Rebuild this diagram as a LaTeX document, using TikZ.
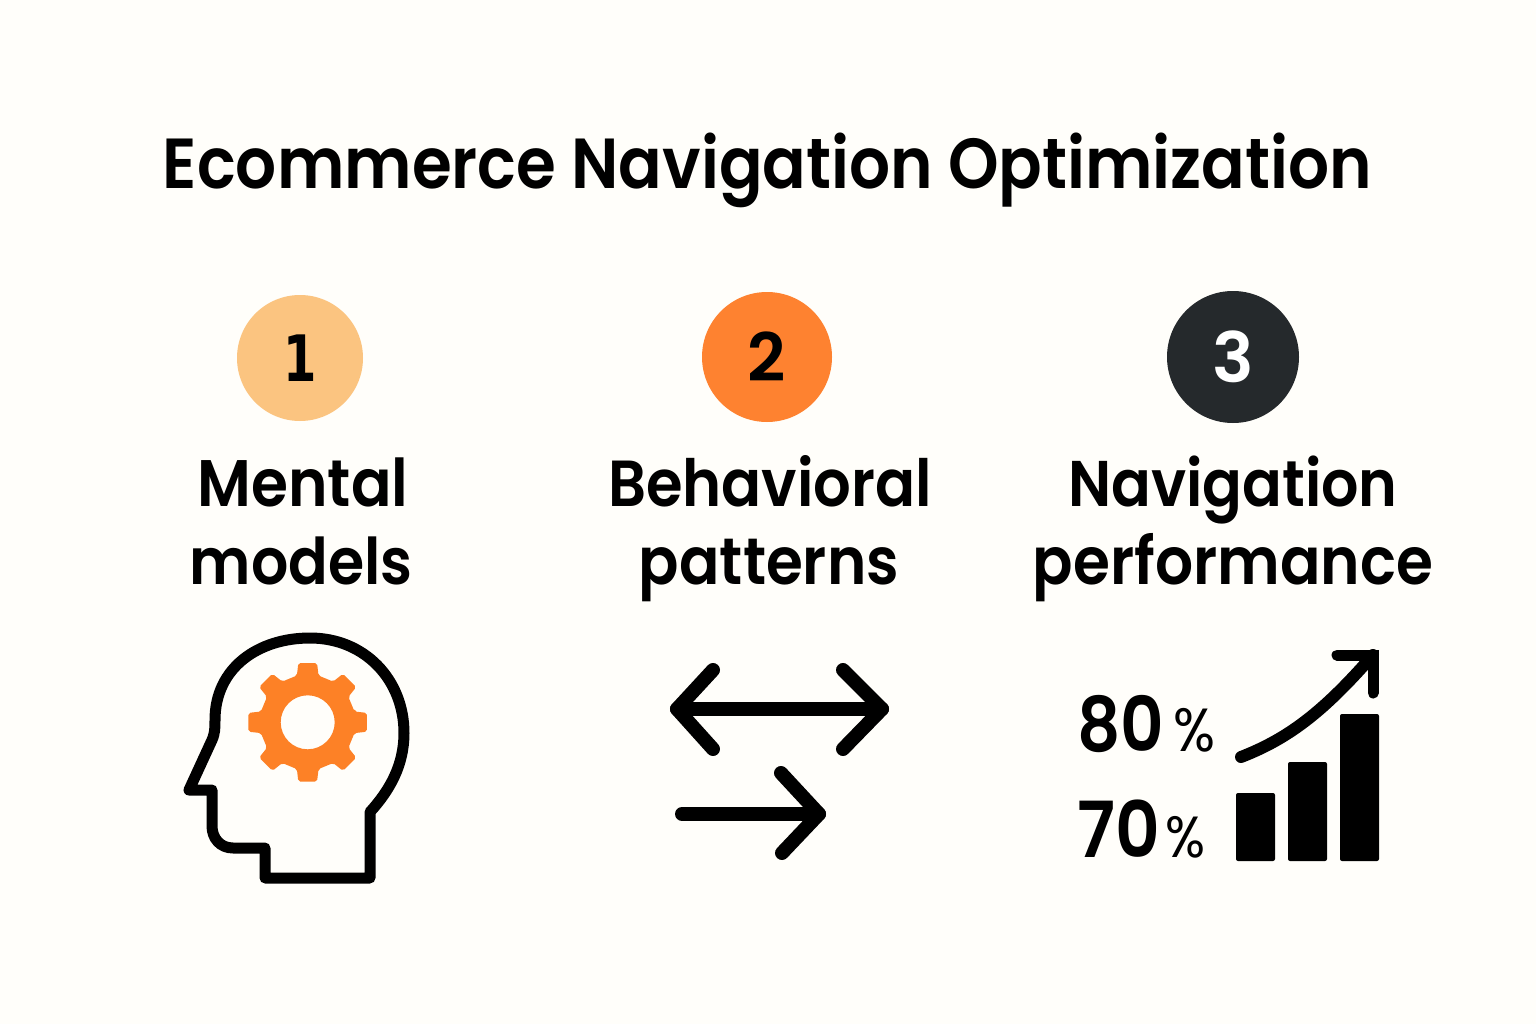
\documentclass[tikz,border=0pt]{standalone}
\usepackage{fontspec}
\setmainfont{Poppins}
\newfontfamily\labfont{Poppins SemiBold}
\newfontfamily\onefont{DejaVu Sans Bold}
\usepackage{graphicx}
\definecolor{bg}{HTML}{FFFEFA}
\definecolor{cone}{HTML}{FBC480}
\definecolor{ctwo}{HTML}{FE8230}
\definecolor{cthree}{HTML}{25292C}
\definecolor{gearc}{HTML}{FD8126}
\tikzset{
 x=0.75pt,y=-0.75pt,
 badge/.style={circle,inner sep=0pt,minimum size=#1},
 lab/.style={inner sep=0pt,text=black,anchor=base},
 ico/.style={line width=11*0.75pt,line join=round,line cap=round,black},
 arr/.style={line width=14*0.75pt,line join=round,line cap=round,black},
 bar/.style={fill=black,rounded corners=1.5pt},
}
\newcommand{\fs}[2]{\fontsize{#1}{#1}\selectfont #2}
\newcommand{\fitw}[3]{\resizebox{#1}{!}{\scalebox{1}[#2]{\labfont\fs{48}{#3}}}}
\begin{document}
\begin{tikzpicture}
\useasboundingbox (0,0) rectangle (1536,1024);
\fill[bg] (0,0) rectangle (1536,1024);
\node[lab] (title) at (767.5,188) {\fitw{906.75pt}{1.1}{Ecommerce Navigation Optimization}};
\node[badge=94.5pt,fill=cone] (b1) at (300,358) {\scalebox{0.75}[1]{\onefont\fs{48}{1}}};
\node[badge=97.5pt,fill=ctwo] (b2) at (767,357) {\labfont\fs{50}{2}};
\node[badge=99pt,fill=cthree,text=white] (b3) at (1233,357) {\labfont\fs{52}{3}};
\node[lab] (m1) at (303,506) {\fitw{158pt}{1.1}{Mental}};
\node[lab] (m2) at (301,584) {\fitw{167pt}{1.1}{models}};
\node[lab] (m3) at (770,506) {\fitw{243pt}{1.1}{Behavioral}};
\node[lab] (m4) at (769,584) {\fitw{195pt}{1.1}{patterns}};
\node[lab] (m5) at (1233,506) {\fitw{247pt}{1.1}{Navigation}};
\node[lab] (m6) at (1233,584) {\fitw{300pt}{1.1}{performance}};
% head
\draw[ico] (370,878) -- (265,878) -- (265,848) -- (233,848)
  .. controls (220,848) and (212,838) .. (212,826) -- (212,790) -- (189,790)
  -- (212,740) .. controls (215,733) and (215,728) .. (215,720)
  .. controls (215,668) and (258,638) .. (310,638)
  .. controls (365,638) and (404,680) .. (404,733)
  .. controls (404,765) and (390,790) .. (370,812) -- cycle;
% gear
\begin{scope}[shift={(307.7,722.3)}]
\fill[gearc,even odd rule,rounded corners=1.5pt] (-13:48)
  \foreach \a in {0,45,...,315} { -- (\a-13:48) -- (\a-9:60) -- (\a+9:60) -- (\a+13:48) } -- cycle
  (0,0) circle (27);
\end{scope}
% arrows
\coordinate (a1) at (677,709); \coordinate (a2) at (882,709);
\coordinate (a3) at (713,670); \coordinate (a4) at (713,749);
\coordinate (a5) at (843,670); \coordinate (a6) at (843,749);
\coordinate (a7) at (682,814); \coordinate (a8) at (819,814);
\coordinate (a9) at (781,773); \coordinate (a10) at (782,853);
\draw[arr] (a1) -- (a2);
\draw[arr] (a3) -- (a1) -- (a4);
\draw[arr] (a5) -- (a2) -- (a6);
\draw[arr] (a7) -- (a8);
\draw[arr] (a9) -- (a8) -- (a10);
% stats
\node[lab,anchor=base west] (p80) at (1077,751) {\fitw{65.25pt}{1.12}{80}};
\node[lab,anchor=base west] (pc80) at (1173,751) {\resizebox{31.5pt}{!}{\scalebox{1}[1.1]{\fs{40}{\%}}}};
\node[lab,anchor=base west] (p70) at (1077,857) {\fitw{62pt}{1.12}{70}};
\node[lab,anchor=base west] (pc70) at (1165,857) {\resizebox{30pt}{!}{\scalebox{1}[1.1]{\fs{40}{\%}}}};
\fill[bar] (1236,793) rectangle (1275,861);
\fill[bar] (1288,762) rectangle (1327,861);
\fill[bar] (1340,714) rectangle (1379,861);
\coordinate (t0) at (1241,757); \coordinate (t1) at (1373,655);
\coordinate (t2) at (1337,655); \coordinate (t3) at (1373,693);
\draw[ico,line width=12*0.75pt] (t0) .. controls (1290,738) and (1325,710) .. (t1);
\draw[ico,line join=miter] (t2) -- (t1) -- (t3);
\end{tikzpicture}
\end{document}
